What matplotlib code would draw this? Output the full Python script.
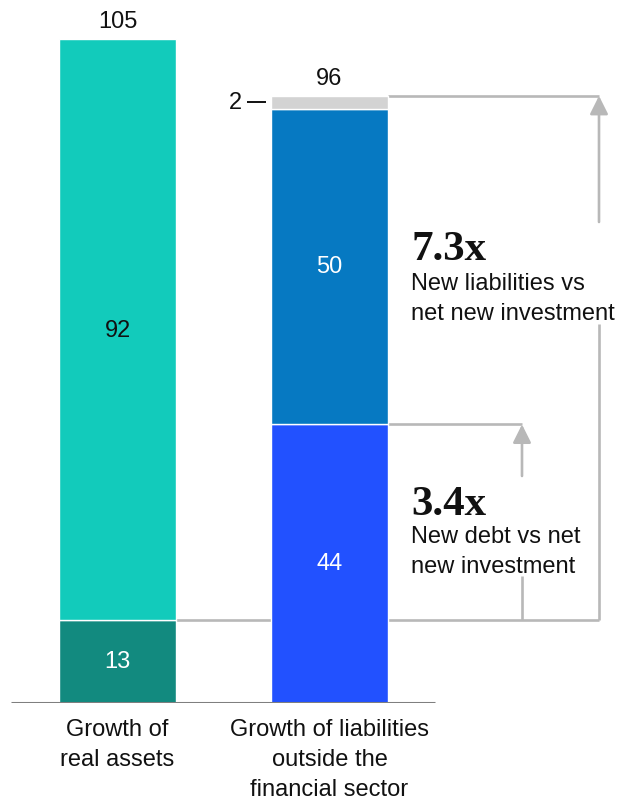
import matplotlib
matplotlib.use("Agg")
import matplotlib.pyplot as plt
from matplotlib.patches import ArrowStyle

# Data
categories = [["Growth of", "real assets"],
              ["Growth of liabilities", "outside the", "financial sector"]]
real_assets = [13, 92]            # bottom -> top segments
real_assets_total = 105
liabilities = [44, 50, 2]         # bottom -> top segments
liabilities_total = 96
ratio_debt = "3.4x"
ratio_debt_text = ["New debt vs net", "new investment"]
ratio_liab = "7.3x"
ratio_liab_text = ["New liabilities vs", "net new investment"]

# Styling
c_real = ["#128A7F", "#12CBBB"]
c_liab = ["#2251FF", "#0679C2", "#D3D3D3"]
real_label_colors = ["white", "#111111"]
liab_label_colors = ["white", "white", None]
grey = "#B8B8B8"
ink = "#111111"
sans = ["Liberation Sans", "DejaVu Sans"]
serif = ["Liberation Serif", "DejaVu Serif"]
fs = 17

plt.rcParams["font.family"] = sans

fig = plt.figure(figsize=(6.29, 8.03), dpi=100)
H = 803.0
ax = fig.add_axes([0, (H - 703.5) / H, 1, (703.5 - 40) / H])
px = 212.0  # pixels per category step
ax.set_xlim(-117.5 / px, (629 - 117.5) / px)
ax.set_ylim(0, real_assets_total)
ax.axis("off")

width = 117 / px
x_real, x_liab = 0, 1

# Stacked bars
bottom = 0
for v, c, lc in zip(real_assets, c_real, real_label_colors):
    ax.bar(x_real, v, width, bottom=bottom, color=c, edgecolor="white",
           linewidth=1, zorder=3)
    ax.text(x_real, bottom + v / 2, str(v), ha="center", va="center",
            fontsize=fs, color=lc, zorder=4)
    bottom += v

bottom = 0
for v, c, lc in zip(liabilities, c_liab, liab_label_colors):
    ax.bar(x_liab, v, width, bottom=bottom, color=c, edgecolor="white",
           linewidth=1, zorder=3)
    if lc is not None:
        ax.text(x_liab, bottom + v / 2, str(v), ha="center", va="center",
                fontsize=fs, color=lc, zorder=4)
    bottom += v

# Totals above bars
for x, tot, top in [(x_real, real_assets_total, sum(real_assets)),
                    (x_liab, liabilities_total, sum(liabilities))]:
    ax.annotate(str(tot), (x, top), xytext=(0, 8.5), textcoords="offset points",
                ha="center", va="baseline", fontsize=fs, color=ink)

# Small callout for the thin top segment
small = liabilities[2]
small_mid = liabilities[0] + liabilities[1] + small / 2
left_edge = x_liab - width / 2
ax.plot([left_edge - 0.025 - 0.09, left_edge - 0.025], [small_mid, small_mid],
        color=ink, lw=1.4, solid_capstyle="butt", zorder=4)
ax.text(left_edge - 0.135, small_mid, str(small), ha="right", va="center",
        fontsize=fs, color=ink)

# Baseline
ax.plot([-0.502, 1.498], [0, 0], color="#7F7F7F", lw=2.2,
        solid_capstyle="butt", zorder=5)

# Connector lines and arrows
x_inner = (522 - 117.5) / px
x_outer = (599 - 117.5) / px
right_edge = x_liab + width / 2
base = real_assets[0]
debt_top = liabilities[0]
liab_top = sum(liabilities)
lw_c = 1.9

ax.plot([x_real + width / 2, x_outer], [base, base], color=grey, lw=lw_c,
        zorder=1, solid_capstyle="butt")
ax.plot([right_edge, x_inner], [debt_top, debt_top], color=grey, lw=lw_c,
        zorder=1, solid_capstyle="butt")
ax.plot([right_edge, x_outer], [liab_top, liab_top], color=grey, lw=lw_c,
        zorder=1, solid_capstyle="butt")

arrow = ArrowStyle("-|>", head_length=1.1, head_width=0.55)


def gapped_arrow(x, y0, y1, gap_lo, gap_hi):
    ax.plot([x, x], [y0, gap_lo], color=grey, lw=lw_c, zorder=1,
            solid_capstyle="butt")
    ax.annotate("", xy=(x, y1), xytext=(x, gap_hi),
                arrowprops=dict(arrowstyle=arrow, color=grey, lw=lw_c,
                                mutation_scale=10, shrinkA=0, shrinkB=0))


def ypx(p):
    return (703.5 - p) / ((703.5 - 40) / real_assets_total)


gapped_arrow(x_inner, base, debt_top, ypx(577), ypx(477))
gapped_arrow(x_outer, base, liab_top, ypx(325), ypx(223))

# Ratio annotations
x_txt = (411 - 117.5) / px
ax.text(x_txt, ypx(260), ratio_liab, family=serif, fontweight="bold",
        fontsize=31, va="baseline", ha="left", color=ink)
for i, line in enumerate(ratio_liab_text):
    ax.text(x_txt, ypx(290 + 30 * i), line, fontsize=fs, va="baseline",
            ha="left", color=ink)

ax.text(x_txt, ypx(515), ratio_debt, family=serif, fontweight="bold",
        fontsize=31, va="baseline", ha="left", color=ink)
for i, line in enumerate(ratio_debt_text):
    ax.text(x_txt, ypx(543 + 30 * i), line, fontsize=fs, va="baseline",
            ha="left", color=ink)

# Category labels (one line per text, 30 px line pitch)
for x, lines in zip([x_real, x_liab], categories):
    for i, line in enumerate(lines):
        ax.annotate(line, (x, 0), xytext=(0, -23.4 - 21.6 * i),
                    textcoords="offset points", ha="center", va="baseline",
                    fontsize=fs, color=ink)

fig.savefig("out.png", dpi=100)
